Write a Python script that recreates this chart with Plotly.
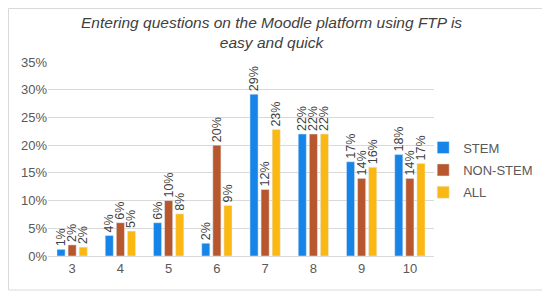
import plotly.graph_objects as go

categories = ["3", "4", "5", "6", "7", "8", "9", "10"]
stem = [0.012, 0.037, 0.060, 0.023, 0.292, 0.220, 0.170, 0.183]
non_stem = [0.020, 0.060, 0.100, 0.200, 0.120, 0.220, 0.140, 0.140]
all_vals = [0.016, 0.045, 0.076, 0.091, 0.228, 0.220, 0.160, 0.167]
stem_lbl = ["1%", "4%", "6%", "2%", "29%", "22%", "17%", "18%"]
non_stem_lbl = ["2%", "6%", "10%", "20%", "12%", "22%", "14%", "14%"]
all_lbl = ["2%", "5%", "8%", "9%", "23%", "22%", "16%", "17%"]

# page has an 8px body margin, so the figure is drawn 8px lower/right
W, H = 542, 284
L, R, T, B = 40, 116, 54, 36
pw, ph = W - L - R, H - T - B

fig = go.Figure()
for name, vals, lbl, col in [("STEM", stem, stem_lbl, "#1784e8"),
                             ("NON-STEM", non_stem, non_stem_lbl, "#b8562e"),
                             ("ALL", all_vals, all_lbl, "#fbb812")]:
    fig.add_trace(go.Bar(x=categories, y=vals, name=name, marker_color=col,
                         legendgroup=name,
                         text=lbl, textposition="outside", textangle=-90,
                         constraintext="none",
                         textfont=dict(size=12.5, color="#404040"),
                         cliponaxis=False))

fig.update_layout(
    width=W, height=H, margin=dict(l=L, r=R, t=T, b=B, autoexpand=False),
    paper_bgcolor="white", plot_bgcolor="white",
    font=dict(family="Liberation Sans, Arial", color="#595959"),
    barmode="group", bargap=0.31, bargroupgap=0.27,
    xaxis=dict(showgrid=False, showline=True, linecolor="#d9d9d9", ticks="",
               tickfont=dict(size=13, color="#595959")),
    yaxis=dict(range=[0, 0.35], dtick=0.05, tickformat=".0%", showgrid=True,
               gridcolor="#d9d9d9", zeroline=False, ticks="",
               tickfont=dict(size=13, color="#595959")),
    legend=dict(x=0.972, y=0.443, xanchor="left", yanchor="middle",
                bgcolor="rgba(0,0,0,0)",
                font=dict(size=13, color="#595959"), itemwidth=30,
                tracegroupgap=2.5),
    showlegend=True,
)
fig.add_annotation(text="<i>Entering questions on the Moodle platform using FTP is<br>easy and quick</i>",
                   xref="paper", yref="paper", x=(263 - L) / pw, y=(H - B - 4) / ph,
                   xanchor="center", yanchor="top", showarrow=False, align="center",
                   font=dict(size=15.5, color="#404040"))
fig.add_shape(type="rect", xref="paper", yref="paper",
              x0=(0.5 - L) / pw, x1=(W - 2 - L) / pw,
              y0=(H - B - (H - 2)) / ph, y1=(H - B - 0.5) / ph,
              line=dict(color="#d9d9d9", width=1), layer="below")
fig.write_html("out.html")
